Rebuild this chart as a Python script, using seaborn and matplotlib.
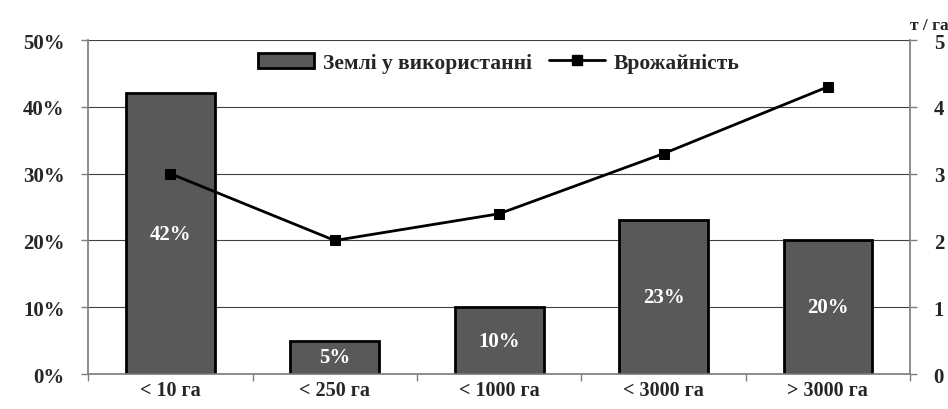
import matplotlib
matplotlib.use("Agg")
import matplotlib.pyplot as plt
import matplotlib.ticker as mticker
from matplotlib.lines import Line2D
from matplotlib.patches import Patch
import seaborn as sns

# Data
categories = ["< 10 га", "< 250 га", "< 1000 га", "< 3000 га", "> 3000 га"]
land_share = [42, 5, 10, 23, 20]          # % of land in use
yields = [3.0, 2.0, 2.4, 3.3, 4.3]        # t / ha
bar_labels = ["42%", "5%", "10%", "23%", "20%"]

sns.set_theme(style="white")
plt.rcParams["font.family"] = ["Liberation Serif", "DejaVu Serif"]
plt.rcParams["font.weight"] = "bold"
plt.rcParams["font.style"] = "normal"

fig = plt.figure(figsize=(9.48, 4.1), dpi=100)
ax = fig.add_axes([0.093, 0.085, 0.867, 0.815])

# Bars
sns.barplot(x=categories, y=land_share, color="#595959", edgecolor="black",
            linewidth=2, width=0.54, saturation=1, ax=ax)
for patch, lab in zip(ax.patches, bar_labels):
    ax.text(patch.get_x() + patch.get_width() / 2, patch.get_height() / 2, lab,
            ha="center", va="center", color="white", fontsize=15, fontweight="bold")

ax.set_ylim(0, 50)
ax.set_xlim(-0.5, 4.5)
ax.yaxis.set_major_locator(mticker.MultipleLocator(10))
ax.yaxis.set_major_formatter(mticker.FuncFormatter(lambda v, p: f"{int(v)}%"))
ax.grid(axis="y", color="#404040", linewidth=0.8)
ax.grid(axis="x", visible=False)
ax.set_axisbelow(True)
for s in ["top", "right"]:
    ax.spines[s].set_visible(False)
ax.spines["left"].set_color("#7f7f7f")
ax.spines["bottom"].set_color("#7f7f7f")

ax.tick_params(axis="y", length=5, width=1, color="#7f7f7f", direction="out",
               labelsize=15, pad=12, left=True)
ax.set_xticks(range(len(categories)))
ax.set_xticklabels(categories)
ax.tick_params(axis="x", length=0, labelsize=14.5, pad=4)
ax.set_xticks([i + 0.5 for i in range(-1, len(categories))], minor=True)
ax.tick_params(axis="x", which="minor", length=5, width=1, color="#7f7f7f",
               direction="out", bottom=True)
ax.set_xlabel("")
ax.set_ylabel("")

# Yield line
ax2 = ax.twinx()
sns.lineplot(x=list(range(len(categories))), y=yields, color="black", linewidth=2,
             marker="s", markersize=7, markeredgecolor="black", ax=ax2)
ax2.set_ylim(0, 5)
ax2.yaxis.set_major_locator(mticker.MultipleLocator(1))
for s in ["top", "left", "bottom"]:
    ax2.spines[s].set_visible(False)
ax2.spines["right"].set_color("#7f7f7f")
ax2.tick_params(axis="y", length=5, width=1, color="#7f7f7f", direction="out",
                labelsize=15, pad=12, right=True)
ax2.grid(False)
ax2.text(1.0, 1.045, "т / га", transform=ax2.transAxes, ha="left", va="center",
         fontsize=12.5, fontweight="bold")

handles = [Patch(facecolor="#595959", edgecolor="black", linewidth=2),
           Line2D([0], [0], color="black", linewidth=2, marker="s", markersize=7)]
ax.legend(handles, ["Землі у використанні", "Врожайність"], loc="upper center",
          bbox_to_anchor=(0.5, 1.0), ncol=2, frameon=False,
          prop={"family": "Liberation Serif", "weight": "bold", "style": "normal",
                "size": 15.5},
          handlelength=2.6, columnspacing=0.8, handletextpad=0.4,
          borderaxespad=0.2)

fig.savefig("out.png", dpi=100)
